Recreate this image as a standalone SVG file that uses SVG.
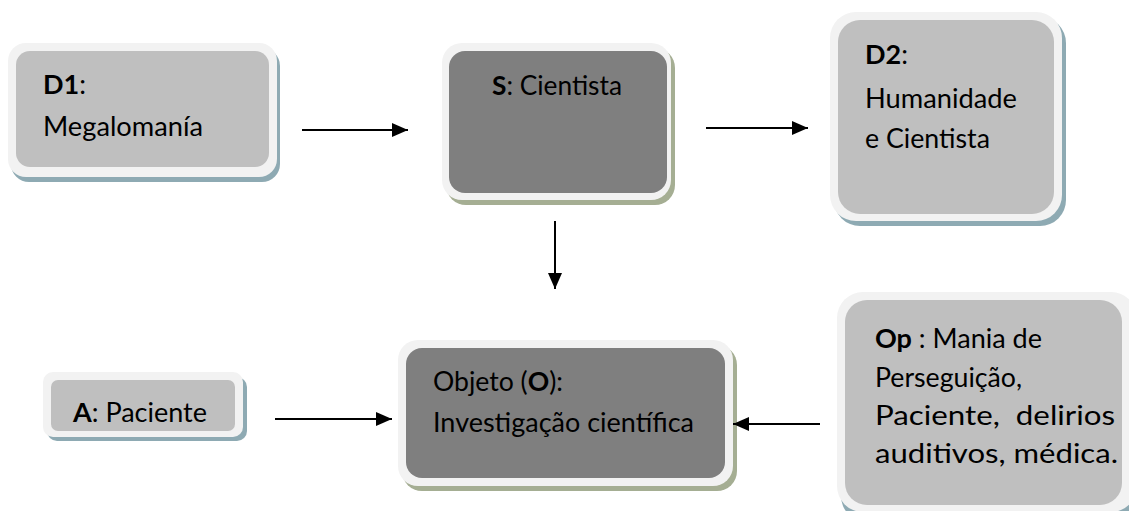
<svg xmlns="http://www.w3.org/2000/svg" width="1129" height="511" viewBox="0 0 1129 511">
<style>
.t{font-family:Lato,"Open Sans","Liberation Sans",sans-serif;font-size:27px;fill:#000}
.b{font-weight:bold}
.frame{fill:#f2f2f2}
.light{fill:#bfbfbf}
.dark{fill:#7f7f7f}
.shb{fill:#8eaab3}
.shg{fill:#a5ae93}
.c{stroke:#000;stroke-width:2;fill:none}
</style>
<defs>
<marker id="ah" viewBox="0 0 16 16" refX="16" refY="8" markerWidth="16" markerHeight="16" markerUnits="userSpaceOnUse" orient="auto">
<path d="M0,1 L16,8 L0,15 Z" fill="#000"/>
</marker>
</defs>
<rect width="1129" height="511" fill="#fff"/>
<g id="D1">
<rect class="shb" x="11" y="48" width="269" height="134" rx="18"/>
<rect class="frame" x="8" y="43" width="269" height="134" rx="18"/>
<rect class="light" x="16" y="51" width="253" height="116" rx="14"/>
<text class="t" x="43" y="94"><tspan class="b">D1</tspan>:</text>
<text class="t" x="43" y="136" textLength="160" lengthAdjust="spacingAndGlyphs">Megalomanía</text>
</g>
<g id="S">
<rect class="shg" x="446" y="48" width="229" height="157" rx="20"/>
<rect class="frame" x="442" y="43" width="229" height="157" rx="20"/>
<rect class="dark" x="449" y="51" width="218" height="142" rx="16"/>
<text class="t" x="492" y="95" textLength="130" lengthAdjust="spacingAndGlyphs"><tspan class="b">S</tspan>: Cientista</text>
</g>
<g id="D2">
<rect class="shb" x="834" y="17" width="232" height="209" rx="26"/>
<rect class="frame" x="830" y="12" width="232" height="209" rx="26"/>
<rect class="light" x="838" y="20" width="216" height="194" rx="22"/>
<text class="t" x="865" y="64"><tspan class="b">D2</tspan>:</text>
<text class="t" x="865" y="108" textLength="152" lengthAdjust="spacingAndGlyphs">Humanidade</text>
<text class="t" x="865" y="148" textLength="125" lengthAdjust="spacingAndGlyphs">e Cientista</text>
</g>
<g id="A">
<rect class="shb" x="47" y="377" width="200" height="64" rx="10"/>
<rect class="frame" x="43" y="372" width="200" height="65" rx="10"/>
<rect class="light" x="51" y="380" width="184" height="51" rx="7"/>
<text class="t" x="73" y="422" textLength="134" lengthAdjust="spacingAndGlyphs"><tspan class="b">A</tspan>: Paciente</text>
</g>
<g id="O">
<rect class="shg" x="402" y="345" width="335" height="146" rx="20"/>
<rect class="frame" x="398" y="340" width="335" height="146" rx="20"/>
<rect class="dark" x="406" y="348" width="319" height="130" rx="16"/>
<text class="t" x="433" y="391" textLength="130" lengthAdjust="spacingAndGlyphs">Objeto (<tspan class="b">O</tspan>):</text>
<text class="t" x="433" y="432" textLength="261" lengthAdjust="spacingAndGlyphs">Investigação científica</text>
</g>
<g id="Op">
<rect class="shb" x="841" y="297" width="300" height="225" rx="26"/>
<rect class="frame" x="837" y="292" width="300" height="220" rx="26"/>
<rect class="light" x="845" y="300" width="277" height="205" rx="22"/>
<text class="t" x="875" y="348" textLength="167" lengthAdjust="spacingAndGlyphs"><tspan class="b">Op</tspan> : Mania de</text>
<text class="t" x="875" y="387" textLength="147" lengthAdjust="spacingAndGlyphs">Perseguição,</text>
<text class="t" x="875" y="425" textLength="240" lengthAdjust="spacingAndGlyphs" xml:space="preserve">Paciente,  delirios</text>
<text class="t" x="875" y="463" textLength="243" lengthAdjust="spacingAndGlyphs">auditivos, médica.</text>
</g>
<g id="connectors">
<line class="c" x1="302" y1="130" x2="408" y2="130" marker-end="url(#ah)"/>
<line class="c" x1="706" y1="128" x2="808" y2="128" marker-end="url(#ah)"/>
<line class="c" x1="555" y1="221" x2="555" y2="289" marker-end="url(#ah)"/>
<line class="c" x1="275" y1="419" x2="392" y2="419" marker-end="url(#ah)"/>
<line class="c" x1="820" y1="424" x2="733" y2="424" marker-end="url(#ah)"/>
</g>
</svg>
